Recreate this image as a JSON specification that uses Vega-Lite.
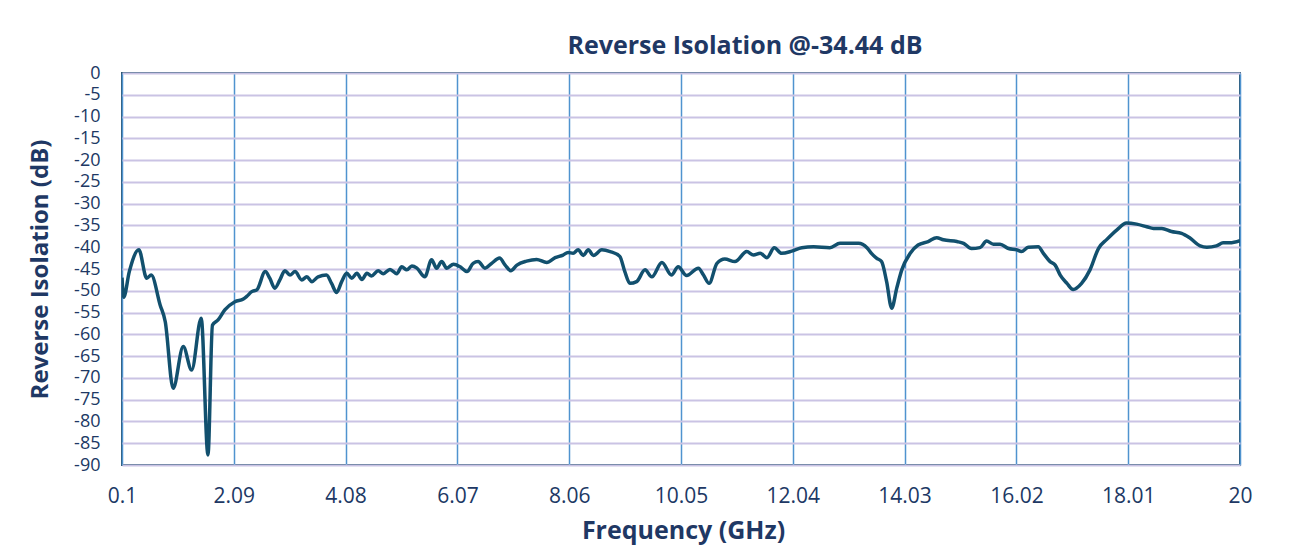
{
  "$schema": "https://vega.github.io/schema/vega-lite/v6.json",
  "width": 1118,
  "height": 392,
  "autosize": "none",
  "padding": {"left": 122, "top": 73, "right": 49, "bottom": 86},
  "background": "white",
  "config": {
    "view": {"stroke": "#2a5673", "strokeWidth": 2},
    "font": "Open Sans"
  },
  "title": {
    "text": "Reverse Isolation @-34.44 dB",
    "fontSize": 25,
    "fontWeight": "bold",
    "color": "#1f3864",
    "font": "Open Sans",
    "anchor": "middle",
    "dx": 64,
    "offset": 5
  },
  "data": {
    "values": [
      {"f": 0.10, "v": -47.0},
      {"f": 0.13, "v": -51.5},
      {"f": 0.23, "v": -45.6},
      {"f": 0.40, "v": -40.6},
      {"f": 0.54, "v": -47.1},
      {"f": 0.62, "v": -46.4},
      {"f": 0.78, "v": -53.3},
      {"f": 0.87, "v": -57.1},
      {"f": 1.01, "v": -72.4},
      {"f": 1.19, "v": -62.8},
      {"f": 1.34, "v": -68.2},
      {"f": 1.51, "v": -56.3},
      {"f": 1.63, "v": -87.7},
      {"f": 1.71, "v": -57.9},
      {"f": 1.81, "v": -56.7},
      {"f": 1.93, "v": -54.4},
      {"f": 2.11, "v": -52.5},
      {"f": 2.26, "v": -51.9},
      {"f": 2.32, "v": -51.3},
      {"f": 2.41, "v": -50.2},
      {"f": 2.50, "v": -49.8},
      {"f": 2.65, "v": -45.6},
      {"f": 2.73, "v": -47.1},
      {"f": 2.82, "v": -49.4},
      {"f": 2.91, "v": -47.5},
      {"f": 3.00, "v": -45.4},
      {"f": 3.09, "v": -46.4},
      {"f": 3.18, "v": -45.6},
      {"f": 3.30, "v": -47.5},
      {"f": 3.39, "v": -46.8},
      {"f": 3.48, "v": -47.9},
      {"f": 3.59, "v": -46.8},
      {"f": 3.74, "v": -46.4},
      {"f": 3.83, "v": -48.3},
      {"f": 3.92, "v": -50.4},
      {"f": 4.01, "v": -47.9},
      {"f": 4.10, "v": -46.0},
      {"f": 4.19, "v": -47.1},
      {"f": 4.28, "v": -46.0},
      {"f": 4.37, "v": -47.4},
      {"f": 4.46, "v": -46.0},
      {"f": 4.54, "v": -46.6},
      {"f": 4.66, "v": -45.4},
      {"f": 4.75, "v": -46.1},
      {"f": 4.87, "v": -45.1},
      {"f": 4.99, "v": -46.1},
      {"f": 5.08, "v": -44.5},
      {"f": 5.17, "v": -45.2},
      {"f": 5.26, "v": -44.3},
      {"f": 5.35, "v": -44.8},
      {"f": 5.49, "v": -46.8},
      {"f": 5.61, "v": -42.9},
      {"f": 5.70, "v": -44.8},
      {"f": 5.79, "v": -43.3},
      {"f": 5.88, "v": -44.8},
      {"f": 6.00, "v": -43.9},
      {"f": 6.12, "v": -44.5},
      {"f": 6.24, "v": -45.6},
      {"f": 6.35, "v": -43.7},
      {"f": 6.44, "v": -43.3},
      {"f": 6.56, "v": -44.8},
      {"f": 6.68, "v": -43.7},
      {"f": 6.82, "v": -42.5},
      {"f": 6.92, "v": -44.1},
      {"f": 7.02, "v": -45.4},
      {"f": 7.13, "v": -44.1},
      {"f": 7.30, "v": -43.2},
      {"f": 7.48, "v": -42.8},
      {"f": 7.66, "v": -43.5},
      {"f": 7.81, "v": -42.4},
      {"f": 7.95, "v": -41.8},
      {"f": 8.04, "v": -41.2},
      {"f": 8.13, "v": -41.4},
      {"f": 8.22, "v": -40.6},
      {"f": 8.31, "v": -41.9},
      {"f": 8.40, "v": -40.6},
      {"f": 8.49, "v": -41.9},
      {"f": 8.64, "v": -40.6},
      {"f": 8.79, "v": -41.0},
      {"f": 8.96, "v": -42.1},
      {"f": 9.05, "v": -45.6},
      {"f": 9.14, "v": -48.3},
      {"f": 9.26, "v": -47.9},
      {"f": 9.41, "v": -45.2},
      {"f": 9.53, "v": -46.8},
      {"f": 9.71, "v": -43.5},
      {"f": 9.88, "v": -46.4},
      {"f": 10.00, "v": -44.5},
      {"f": 10.15, "v": -46.5},
      {"f": 10.36, "v": -44.8},
      {"f": 10.45, "v": -46.4},
      {"f": 10.55, "v": -48.3},
      {"f": 10.69, "v": -43.7},
      {"f": 10.83, "v": -42.7},
      {"f": 11.01, "v": -43.3},
      {"f": 11.22, "v": -41.0},
      {"f": 11.34, "v": -41.8},
      {"f": 11.46, "v": -41.4},
      {"f": 11.58, "v": -42.4},
      {"f": 11.71, "v": -40.1},
      {"f": 11.84, "v": -41.4},
      {"f": 12.02, "v": -40.9},
      {"f": 12.20, "v": -40.1},
      {"f": 12.41, "v": -39.9},
      {"f": 12.70, "v": -40.1},
      {"f": 12.88, "v": -39.1},
      {"f": 13.21, "v": -39.1},
      {"f": 13.36, "v": -40.1},
      {"f": 13.44, "v": -41.4},
      {"f": 13.53, "v": -42.5},
      {"f": 13.62, "v": -43.3},
      {"f": 13.71, "v": -47.9},
      {"f": 13.80, "v": -54.0},
      {"f": 13.89, "v": -49.4},
      {"f": 13.98, "v": -45.2},
      {"f": 14.13, "v": -41.4},
      {"f": 14.27, "v": -39.5},
      {"f": 14.45, "v": -38.7},
      {"f": 14.60, "v": -37.8},
      {"f": 14.72, "v": -38.3},
      {"f": 14.96, "v": -38.7},
      {"f": 15.08, "v": -39.1},
      {"f": 15.22, "v": -40.3},
      {"f": 15.37, "v": -40.1},
      {"f": 15.49, "v": -38.6},
      {"f": 15.61, "v": -39.3},
      {"f": 15.73, "v": -39.3},
      {"f": 15.88, "v": -40.3},
      {"f": 16.03, "v": -40.6},
      {"f": 16.11, "v": -41.0},
      {"f": 16.23, "v": -40.0},
      {"f": 16.41, "v": -39.9},
      {"f": 16.50, "v": -41.4},
      {"f": 16.62, "v": -43.3},
      {"f": 16.71, "v": -44.1},
      {"f": 16.80, "v": -46.4},
      {"f": 16.92, "v": -48.3},
      {"f": 17.03, "v": -49.7},
      {"f": 17.18, "v": -48.3},
      {"f": 17.33, "v": -45.2},
      {"f": 17.48, "v": -40.3},
      {"f": 17.63, "v": -38.2},
      {"f": 17.81, "v": -36.0},
      {"f": 17.98, "v": -34.44},
      {"f": 18.16, "v": -34.7},
      {"f": 18.34, "v": -35.3},
      {"f": 18.46, "v": -35.7},
      {"f": 18.61, "v": -35.7},
      {"f": 18.78, "v": -36.4},
      {"f": 18.96, "v": -36.8},
      {"f": 19.11, "v": -37.9},
      {"f": 19.29, "v": -39.7},
      {"f": 19.41, "v": -40.0},
      {"f": 19.58, "v": -39.7},
      {"f": 19.70, "v": -39.0},
      {"f": 19.82, "v": -39.0},
      {"f": 20.00, "v": -38.5}
    ]
  },
  "mark": {"type": "line", "color": "#12506e", "strokeWidth": 3.5, "interpolate": "monotone", "clip": true},
  "encoding": {
    "x": {
      "field": "f",
      "type": "quantitative",
      "scale": {"domain": [0.1, 20], "nice": false, "zero": false},
      "axis": {
        "title": "Frequency (GHz)",
        "values": [0.1, 2.09, 4.08, 6.07, 8.06, 10.05, 12.04, 14.03, 16.02, 18.01, 20],
        "labelExpr": "'' + datum.value",
        "labelFontSize": 21,
        "labelColor": "#203864",
        "labelPadding": 20,
        "labelFlush": false,
        "labelOverlap": false,
        "ticks": false,
        "domain": false,
        "grid": true,
        "gridColor": "#4f93cf",
        "gridWidth": 1.5,
        "gridOpacity": 1,
        "titleFontSize": 25,
        "titleFontWeight": "bold",
        "titleColor": "#1f3864",
        "titleX": 561,
        "titleY": 65,
        "titleBaseline": "middle",
        "titleAlign": "center"
      }
    },
    "y": {
      "field": "v",
      "type": "quantitative",
      "scale": {"domain": [-90, 0], "nice": false},
      "axis": {
        "title": "Reverse Isolation (dB)",
        "values": [0, -5, -10, -15, -20, -25, -30, -35, -40, -45, -50, -55, -60, -65, -70, -75, -80, -85, -90],
        "labelExpr": "'' + datum.value",
        "labelFontSize": 18,
        "labelColor": "#203864",
        "labelPadding": 22,
        "labelOverlap": false,
        "ticks": false,
        "domain": false,
        "grid": true,
        "gridColor": "#cac3e4",
        "gridWidth": 2,
        "gridOpacity": 1,
        "titleFontSize": 24,
        "titleFontWeight": "bold",
        "titleColor": "#1f3864",
        "titleX": -82,
        "titleY": 196,
        "titleAngle": -90,
        "titleBaseline": "middle",
        "titleAlign": "center"
      }
    }
  }
}
